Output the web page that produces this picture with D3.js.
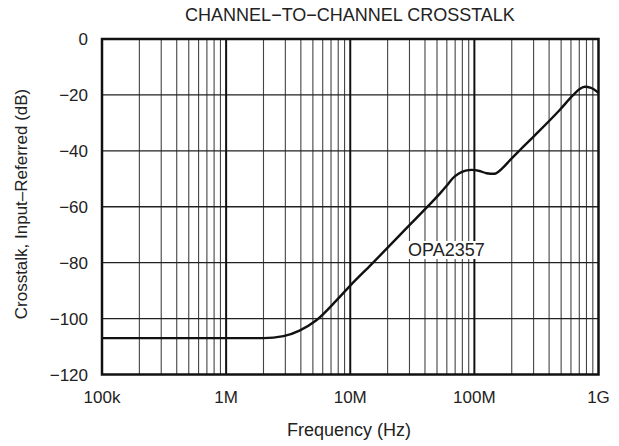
<!DOCTYPE html>
<html><head><meta charset="utf-8">
<script src="https://cdn.jsdelivr.net/npm/d3@7"></script>
<style>body{margin:0;background:#fff}svg{display:block;font-family:"Liberation Sans",Arial,sans-serif}</style>
</head><body><svg id="c" width="619" height="446"></svg>
<script>
const freqHz = [1e5, 1e6, 2e6, 2.9e6, 3.9e6, 5.3e6, 7.75e6, 1e7, 1.48e7, 3e7, 4.1e7, 5.27e7, 6.0e7, 6.7e7, 7.5e7, 8.5e7, 9.5e7, 1.1e8, 1.25e8, 1.45e8, 1.7e8, 1.93e8, 2.32e8, 3e8, 4.87e8, 6.24e8, 7e8, 7.75e8, 8.7e8, 1e9];
const crosstalkDb = [-107, -107, -107, -106.3, -104.3, -100.7, -93.5, -88.2, -80.6, -66.6, -60.4, -55.3, -52.4, -49.8, -48.1, -47.1, -46.8, -47.2, -48.0, -48.2, -46, -43.4, -39.8, -34.9, -25.4, -20.1, -18, -17.1, -17.5, -19.2];
const xTickValues = [1e5, 1e6, 1e7, 1e8, 1e9];
const xTickLabels = ["100k", "1M", "10M", "100M", "1G"];
const yTickValues = [0, -20, -40, -60, -80, -100, -120];
const title = "CHANNEL\u2212TO\u2212CHANNEL CROSSTALK";
const xLabel = "Frequency (Hz)";
const yLabel = "Crosstalk, Input\u2013Referred (dB)";
const seriesLabel = "OPA2357";

const svg = d3.select("#c");
const L = 102, R = 598.5, T = 39, B = 374.5;
const x = d3.scaleLog().domain([1e5, 1e9]).range([L, R]);
const y = d3.scaleLinear().domain([0, -120]).range([T, B]);
const ink = "#222";

const g = svg.append("g");
const minor = [];
for (let d = 1e5; d < 1e9; d *= 10) for (let k = 2; k <= 9; k++) minor.push(d * k);
g.selectAll(".mn").data(minor).enter().append("line")
  .attr("x1", d => x(d)).attr("x2", d => x(d)).attr("y1", T).attr("y2", B)
  .attr("stroke", "#444").attr("stroke-width", 1.1);
g.selectAll(".hg").data(yTickValues.slice(1, -1)).enter().append("line")
  .attr("x1", L).attr("x2", R).attr("y1", d => y(d)).attr("y2", d => y(d))
  .attr("stroke", "#222").attr("stroke-width", 1.3);
g.selectAll(".mj").data(xTickValues.slice(1, -1)).enter().append("line")
  .attr("x1", d => x(d)).attr("x2", d => x(d)).attr("y1", T).attr("y2", B)
  .attr("stroke", "#111").attr("stroke-width", 2);
g.append("rect").attr("x", L).attr("y", T).attr("width", R - L).attr("height", B - T)
  .attr("fill", "none").attr("stroke", "#111").attr("stroke-width", 2.5);

const lt = svg.append("text").attr("x", 408).attr("y", 256).attr("font-size", 18).attr("fill", ink).text(seriesLabel);
const bb = lt.node().getBBox();
svg.insert("rect", "text").attr("x", bb.x - 2).attr("y", bb.y + 1).attr("width", bb.width + 4).attr("height", bb.height - 2).attr("fill", "#fff");

const line = d3.line().x((d, i) => x(freqHz[i])).y(d => y(d)).curve(d3.curveMonotoneX);
svg.append("path").attr("d", line(crosstalkDb)).attr("fill", "none").attr("stroke", "#111").attr("stroke-width", 2.4);

svg.selectAll(".xt").data(xTickValues).enter().append("text")
  .attr("x", d => x(d)).attr("y", 403).attr("text-anchor", "middle").attr("font-size", 17).attr("fill", ink)
  .text((d, i) => xTickLabels[i]);
svg.selectAll(".yt").data(yTickValues).enter().append("text")
  .attr("x", 88).attr("y", d => y(d) + 6).attr("text-anchor", "end").attr("font-size", 17).attr("fill", ink)
  .text(d => d === 0 ? "0" : "\u2212" + Math.abs(d));
svg.append("text").attr("x", 350).attr("y", 21).attr("text-anchor", "middle").attr("font-size", 18).attr("fill", ink).text(title);
svg.append("text").attr("x", 349).attr("y", 436).attr("text-anchor", "middle").attr("font-size", 18).attr("fill", ink).text(xLabel);
svg.append("text").attr("transform", "translate(27,204) rotate(-90)").attr("text-anchor", "middle").attr("font-size", 17).attr("fill", ink).text(yLabel);
</script></body></html>
